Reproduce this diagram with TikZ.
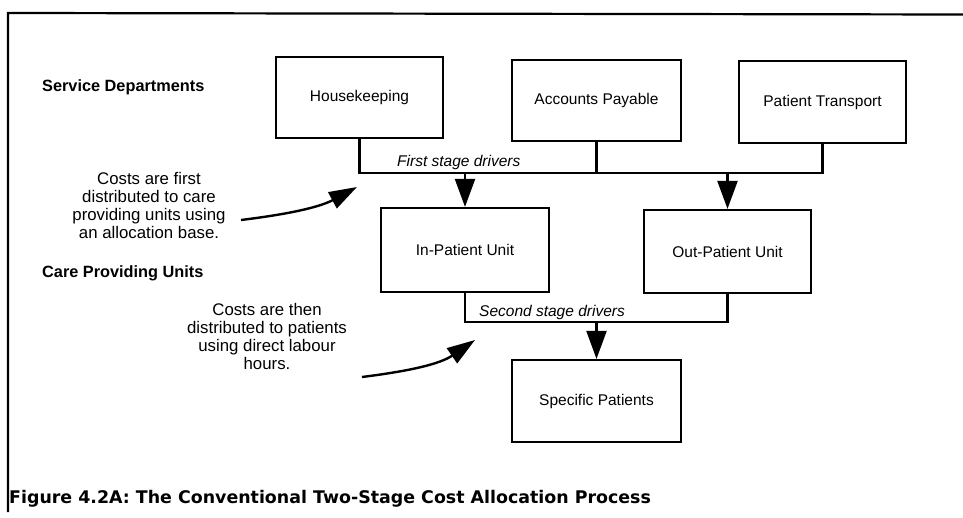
\documentclass[tikz,border=0pt]{standalone}
\usepackage{fontspec}
\setmainfont{Liberation Sans}
\newfontfamily\captionface{DejaVu Sans}
\usetikzlibrary{arrows.meta}
\begin{document}
\begin{tikzpicture}[x=1pt,y=-1pt,
  unitbox/.style={draw,line width=2.2pt,inner sep=0pt,font=\fontsize{15.5}{18}\selectfont},
  link/.style={line width=2.2pt},
  droparrow/.style={line width=2.2pt,-{Triangle[length=28pt,width=20pt]}},
  notearrow/.style={line width=2.4pt,-{Triangle[length=28pt,width=18pt]}},
  rowlabel/.style={anchor=west,inner sep=0pt,font=\fontsize{16.3}{18}\bfseries\selectfont},
  drivers/.style={anchor=west,inner sep=0pt,font=\fontsize{15.5}{18}\itshape\selectfont},
  note/.style={align=center,inner sep=0pt,font=\fontsize{16.8}{18}\selectfont}]
\useasboundingbox (0,0) rectangle (963,518);
% frame
\draw[line width=2.2pt] (963,14.5) -- (8,13) -- (8,512);

% row labels
\node[rowlabel] (svc) at (42,87) {Service Departments};
\node[rowlabel] (care) at (42,273) {Care Providing Units};

% service departments
\node[unitbox,minimum width=167pt,minimum height=81pt] (hk) at (359.5,97.5) {Housekeeping};
\node[unitbox,minimum width=169pt,minimum height=81pt] (ap) at (596.5,100.5) {Accounts Payable};
\node[unitbox,minimum width=167pt,minimum height=82pt] (pt) at (822.5,102) {Patient Transport};

% care providing units
\node[unitbox,minimum width=168pt,minimum height=84pt] (ip) at (465,250) {In-Patient Unit};
\node[unitbox,minimum width=167pt,minimum height=83pt] (op) at (727.5,251.5) {Out-Patient Unit};

% patients
\node[unitbox,minimum width=169pt,minimum height=82pt] (sp) at (596.5,401) {Specific Patients};

% first stage
\coordinate (bus1) at (0,173);
\draw[link] (hk.south) -- (hk.south |- bus1) -- (pt.south |- bus1) -- (pt.south);
\draw[link] (ap.south) -- (ap.south |- bus1);
\draw[droparrow] (ip.north |- bus1) -- (ip.north);
\draw[droparrow] (op.north |- bus1) -- (op.north);
\node[drivers] (d1) at (397,162) {First stage drivers};

% second stage
\coordinate (bus2) at (0,322);
\draw[link] (ip.south) -- (ip.south |- bus2) -- (op.south |- bus2) -- (op.south);
\draw[droparrow] (sp.north |- bus2) -- (sp.north);
\node[drivers] (d2) at (479,312) {Second stage drivers};

% notes
\node[note] (n1) at (149,205) {Costs are first\\distributed to care\\providing units using\\an allocation base.};
\coordinate (t1) at (357,187);
\draw[notearrow] (241,220) .. controls (290,214) and (320,207) .. (t1);

\node[note] (n2) at (267,336) {Costs are then\\distributed to patients\\using direct labour\\hours.};
\coordinate (t2) at (475,340);
\draw[notearrow] (362,377) .. controls (410,371) and (440,364) .. (t2);

% caption
\node[anchor=west,inner sep=0pt,font=\captionface\fontsize{17.4}{20}\bfseries\selectfont] (cap) at (9,499)
  {Figure 4.2A: The Conventional Two-Stage Cost Allocation Process};
\end{tikzpicture}
\end{document}
